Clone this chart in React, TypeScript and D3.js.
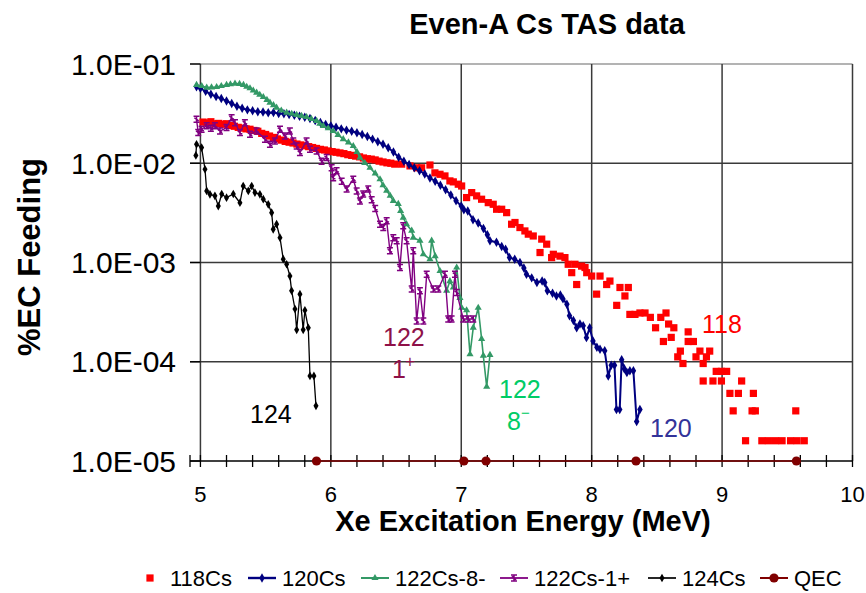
import React from "react";
import * as d3 from "d3";

// ---- series data: [excitation energy (MeV), EC feeding fraction] ----
const cs118: [number, number][] = [
  [5.02, 0.026], [5.05, 0.0255], [5.08, 0.0262], [5.11, 0.025], [5.14, 0.0252], [5.17, 0.0247],
  [5.2, 0.025], [5.23, 0.024], [5.26, 0.0236], [5.29, 0.023], [5.32, 0.0226], [5.35, 0.0222],
  [5.38, 0.022], [5.41, 0.0214], [5.44, 0.021], [5.47, 0.02], [5.5, 0.0195], [5.53, 0.0188],
  [5.56, 0.0182], [5.59, 0.0176], [5.62, 0.0171], [5.65, 0.0166], [5.68, 0.0163], [5.71, 0.016],
  [5.74, 0.0156], [5.77, 0.0153], [5.8, 0.015], [5.83, 0.0147], [5.86, 0.0144], [5.89, 0.0141],
  [5.92, 0.0138], [5.95, 0.0136], [5.98, 0.0133], [6.01, 0.0131], [6.04, 0.0129], [6.07, 0.0127],
  [6.1, 0.0125], [6.13, 0.0122], [6.16, 0.012], [6.19, 0.0118], [6.22, 0.0116], [6.25, 0.0113],
  [6.28, 0.0111], [6.31, 0.011], [6.34, 0.0108], [6.37, 0.0105], [6.4, 0.0103], [6.43, 0.0101],
  [6.46, 0.01], [6.49, 0.0098], [6.543, 0.0098], [6.607, 0.0094], [6.658, 0.009], [6.696, 0.009],
  [6.76, 0.0096], [6.798, 0.008], [6.837, 0.00774], [6.875, 0.00745], [6.913, 0.00664],
  [6.939, 0.00649], [6.977, 0.00615], [7.003, 0.0059], [7.041, 0.00451], [7.08, 0.00506],
  [7.118, 0.00469], [7.156, 0.00434], [7.207, 0.00401], [7.245, 0.00386], [7.271, 0.00344],
  [7.31, 0.00344], [7.348, 0.00318], [7.386, 0.00243], [7.412, 0.00253], [7.45, 0.00225],
  [7.488, 0.00208], [7.514, 0.00193], [7.552, 0.00185], [7.604, 0.00126], [7.617, 0.00172],
  [7.655, 0.00153], [7.693, 0.00112], [7.706, 0.00121], [7.757, 0.00116], [7.795, 0.00112],
  [7.82, 0.00096], [7.847, 0.00079], [7.872, 0.00096], [7.885, 0.0006], [7.923, 0.00092],
  [7.949, 0.00089], [7.962, 0.00079], [8.0, 0.00073], [8.038, 0.00048], [8.064, 0.00073],
  [8.115, 0.0006], [8.14, 0.00065], [8.192, 0.00037], [8.217, 0.00056], [8.255, 0.00046],
  [8.281, 0.00056], [8.293, 0.0003], [8.332, 0.0003], [8.37, 0.00031], [8.409, 0.00031],
  [8.45, 0.00028], [8.49, 0.00022], [8.53, 0.00028], [8.55, 0.00016], [8.57, 0.00031],
  [8.59, 0.00024], [8.61, 0.000176], [8.63, 0.00022], [8.66, 0.000112], [8.68, 0.000128],
  [8.7, 0.000096], [8.74, 0.00016], [8.74, 0.0002], [8.78, 0.00016], [8.8, 0.000112],
  [8.83, 0.000128], [8.855, 0.000096], [8.855, 0.000064], [8.88, 0.000112], [8.905, 0.000128],
  [8.93, 0.000064], [8.955, 0.00008], [8.995, 0.00008], [8.995, 0.000064], [9.035, 0.00008],
  [9.06, 0.000048], [9.085, 0.000032], [9.125, 0.000048], [9.15, 0.000064], [9.18, 0.000016],
  [9.23, 0.000032], [9.24, 0.000048], [9.255, 0.000032], [9.305, 0.000016], [9.355, 0.000016],
  [9.41, 0.000016], [9.46, 0.000016], [9.525, 0.000016], [9.565, 0.000032], [9.575, 0.000016],
  [9.63, 0.000016],
];

const cs120: [number, number][] = [
  [4.97, 0.059], [5.0, 0.057], [5.04, 0.053], [5.08, 0.0495], [5.12, 0.047], [5.16, 0.0448],
  [5.2, 0.0425], [5.24, 0.04], [5.28, 0.0375], [5.32, 0.0358], [5.36, 0.0345], [5.4, 0.0338],
  [5.44, 0.033], [5.48, 0.0328], [5.52, 0.0322], [5.56, 0.0325], [5.6, 0.0318], [5.64, 0.0315],
  [5.68, 0.031], [5.72, 0.0305], [5.76, 0.0298], [5.8, 0.029], [5.84, 0.0282], [5.88, 0.027],
  [5.92, 0.0258], [5.96, 0.0246], [6.0, 0.0238], [6.04, 0.023], [6.08, 0.0222], [6.12, 0.0215],
  [6.16, 0.021], [6.2, 0.0203], [6.24, 0.0195], [6.28, 0.0186], [6.32, 0.0175], [6.36, 0.0165],
  [6.4, 0.0155], [6.44, 0.0143], [6.48, 0.013], [6.52, 0.0115], [6.56, 0.0105], [6.6, 0.0097],
  [6.64, 0.009], [6.68, 0.0084], [6.72, 0.0078], [6.76, 0.0071], [6.8, 0.0066], [6.84, 0.006],
  [6.88, 0.0054], [6.92, 0.0048], [6.96, 0.0042], [7.0, 0.0037], [7.02, 0.0034], [7.05, 0.0033],
  [7.09, 0.0027], [7.13, 0.0025], [7.17, 0.0022], [7.2, 0.0019], [7.22, 0.00166], [7.27, 0.0016],
  [7.31, 0.00145], [7.34, 0.00136], [7.37, 0.00112], [7.41, 0.00108], [7.45, 0.001], [7.48, 0.00088],
  [7.5, 0.00076], [7.54, 0.0007], [7.58, 0.00063], [7.62, 0.00065], [7.64, 0.00063], [7.66, 0.00052],
  [7.7, 0.00049], [7.73, 0.00046], [7.76, 0.00047], [7.78, 0.00043], [7.81, 0.00038], [7.83, 0.00029],
  [7.86, 0.00026], [7.885, 0.00022], [7.91, 0.00024], [7.935, 0.00023], [7.96, 0.000175],
  [7.985, 0.00022], [8.01, 0.000162], [8.04, 0.00014], [8.064, 0.000134], [8.1, 0.000129],
  [8.127, 0.000072], [8.15, 0.000092], [8.175, 0.000092], [8.19, 0.000033], [8.215, 0.000033],
  [8.23, 0.000105], [8.25, 0.000085], [8.27, 0.000078], [8.293, 0.000081], [8.32, 0.000081],
  [8.345, 0.000025], [8.37, 0.000033],
];

const cs122m8: [number, number][] = [
  [4.97, 0.0615], [5.01, 0.06], [5.048, 0.0578], [5.085, 0.0582], [5.124, 0.0586], [5.16, 0.06],
  [5.2, 0.0615], [5.23, 0.0625], [5.265, 0.0634], [5.3, 0.063], [5.33, 0.0615], [5.355, 0.059],
  [5.38, 0.0569], [5.405, 0.054], [5.431, 0.0514], [5.455, 0.049], [5.482, 0.0465], [5.51, 0.0435],
  [5.533, 0.0408], [5.56, 0.0385], [5.584, 0.0363], [5.62, 0.034], [5.661, 0.0323], [5.7, 0.0315],
  [5.738, 0.0307], [5.775, 0.03], [5.814, 0.0292], [5.85, 0.028], [5.891, 0.0267], [5.915, 0.025],
  [5.942, 0.0238], [5.98, 0.0225], [6.018, 0.0211], [6.055, 0.0193], [6.095, 0.0175], [6.135, 0.0162],
  [6.172, 0.0149], [6.2, 0.013], [6.223, 0.0114], [6.26, 0.0101], [6.3, 0.009], [6.34, 0.0079],
  [6.377, 0.0069], [6.4, 0.006], [6.428, 0.0053], [6.455, 0.0047], [6.479, 0.00417], [6.517, 0.0039],
  [6.535, 0.0033], [6.555, 0.00283], [6.58, 0.00243], [6.62, 0.00209], [6.632, 0.00178],
  [6.683, 0.00166], [6.709, 0.00121], [6.76, 0.00108], [6.773, 0.00166], [6.8, 0.00116],
  [6.837, 0.00082], [6.888, 0.00052], [6.913, 0.00065], [6.939, 0.00056], [6.965, 0.00089],
  [6.99, 0.00044], [7.003, 0.00035], [7.041, 0.00033], [7.067, 0.000119], [7.092, 0.000221],
  [7.13, 0.00035], [7.156, 0.00017], [7.169, 0.000115], [7.195, 0.000056], [7.22, 0.000117],
];

const cs122p1: [number, number][] = [
  [4.97, 0.0277], [4.983, 0.0204], [5.009, 0.022], [5.048, 0.0238], [5.08, 0.0225], [5.111, 0.0238],
  [5.15, 0.0211], [5.2, 0.0229], [5.239, 0.0288], [5.265, 0.0256], [5.303, 0.0204], [5.341, 0.0256],
  [5.38, 0.0196], [5.431, 0.0211], [5.495, 0.0175], [5.533, 0.0155], [5.571, 0.0168], [5.61, 0.022],
  [5.648, 0.0188], [5.686, 0.0211], [5.712, 0.0168], [5.738, 0.0149], [5.763, 0.0128],
  [5.814, 0.0168], [5.84, 0.0138], [5.891, 0.0133], [5.929, 0.0105], [5.968, 0.0114],
  [6.006, 0.009], [6.018, 0.00716], [6.044, 0.0084], [6.083, 0.0066], [6.121, 0.0055],
  [6.172, 0.0069], [6.198, 0.00526], [6.223, 0.00417], [6.248, 0.0049], [6.287, 0.0055],
  [6.313, 0.0043], [6.34, 0.0035], [6.377, 0.00243], [6.402, 0.00225], [6.428, 0.00263],
  [6.453, 0.00131], [6.479, 0.00178], [6.505, 0.00166], [6.53, 0.00089], [6.555, 0.00234],
  [6.581, 0.00166], [6.62, 0.00054], [6.632, 0.00131], [6.658, 0.000258], [6.683, 0.00052],
  [6.709, 0.000258], [6.735, 0.00076], [6.785, 0.00054], [6.824, 0.00054], [6.875, 0.00076],
  [6.9, 0.00027], [6.926, 0.00027], [6.952, 0.00076], [6.965, 0.0005], [7.015, 0.00027],
  [7.054, 0.00027], [7.092, 0.00027],
];

const cs124: [number, number][] = [
  [4.965, 0.012], [4.97, 0.0155], [5.009, 0.0144], [5.035, 0.0087], [5.048, 0.00526],
  [5.073, 0.00487], [5.111, 0.0047], [5.137, 0.0037], [5.163, 0.0049], [5.2, 0.0045],
  [5.252, 0.0049], [5.303, 0.004], [5.328, 0.0059], [5.367, 0.00526], [5.393, 0.0059],
  [5.418, 0.00506], [5.456, 0.00487], [5.482, 0.00434], [5.52, 0.00386], [5.546, 0.00318],
  [5.558, 0.00216], [5.584, 0.00243], [5.61, 0.00178], [5.635, 0.00108], [5.661, 0.00096],
  [5.686, 0.00073], [5.699, 0.00052], [5.725, 0.00034], [5.738, 0.00021], [5.763, 0.00048],
  [5.788, 0.00021], [5.801, 0.00033], [5.827, 0.00022], [5.84, 0.000072], [5.87, 0.000072],
  [5.886, 0.000036],
];

const qecEnergies = [5.89, 7.02, 7.19, 8.34, 9.57];
const qec: [number, number][] = qecEnergies.map((e) => [e, 1e-5]);

const yTicks = [1e-1, 1e-2, 1e-3, 1e-4, 1e-5];
const yTickLabels = ["1.0E-01", "1.0E-02", "1.0E-03", "1.0E-04", "1.0E-05"];
const xTicks = [5, 6, 7, 8, 9, 10];
const legendNames = ["118Cs", "120Cs", "122Cs-8-", "122Cs-1+", "124Cs", "QEC"];

const FONT = "'Liberation Sans', Arial, Helvetica, sans-serif";

const W = 866;
const H = 593;
const x = d3.scaleLinear().domain([4.92, 10]).range([190, 852.5]);
const y = d3.scaleLog().domain([1e-5, 1e-1]).range([461, 64]);

type MarkerKind = "square" | "diamond" | "triangle" | "ibeam" | "dot" | "circle";

function Marker({ kind, cx, cy, color }: { kind: MarkerKind; cx: number; cy: number; color: string }) {
  switch (kind) {
    case "square":
      return <rect x={cx - 3.6} y={cy - 3.6} width={7.2} height={7.2} fill={color} />;
    case "diamond":
      return <path transform={`translate(${cx},${cy})`} d={d3.symbol(d3.symbolDiamond, 26)()!} fill={color} />;
    case "triangle":
      return <path transform={`translate(${cx},${cy})`} d={d3.symbol(d3.symbolTriangle, 22)()!} fill={color} />;
    case "ibeam":
      return (
        <path
          transform={`translate(${cx},${cy})`}
          d="M-3,-3H3M-3,3H3M0,-3V3M-2.2,-1.6L2.2,1.6"
          stroke={color}
          strokeWidth={1.5}
          fill="none"
        />
      );
    case "dot":
      return <path transform={`translate(${cx},${cy})`} d={d3.symbol(d3.symbolDiamond, 22)()!} fill={color} />;
    case "circle":
      return <circle cx={cx} cy={cy} r={4.6} fill={color} />;
  }
}

type Series = {
  name: string;
  data: [number, number][];
  color: string;
  line: boolean;
  lineWidth: number;
  marker: MarkerKind;
};

const series: Series[] = [
  { name: legendNames[0], data: cs118, color: "#ff0000", line: false, lineWidth: 0, marker: "square" },
  { name: legendNames[1], data: cs120, color: "#000080", line: true, lineWidth: 2, marker: "diamond" },
  { name: legendNames[2], data: cs122m8, color: "#339966", line: true, lineWidth: 1.6, marker: "triangle" },
  { name: legendNames[3], data: cs122p1, color: "#800080", line: true, lineWidth: 1.4, marker: "ibeam" },
  { name: legendNames[4], data: cs124, color: "#000000", line: true, lineWidth: 1.3, marker: "dot" },
  { name: legendNames[5], data: qec, color: "#800000", line: true, lineWidth: 1.6, marker: "circle" },
];

// legend slot positions (start of the symbol segment)
const legendX = [136, 248, 361, 500, 648, 760];

export default function App() {
  const lineGen = d3
    .line<[number, number]>()
    .x((d) => x(d[0]))
    .y((d) => y(d[1]));

  const minorTicks = d3.range(0, 26).map((i) => 5 + i * 0.2);

  return (
    <svg
      width={W}
      height={H}
      viewBox={`0 0 ${W} ${H}`}
      style={{ position: "absolute", left: 0, top: 0, background: "#fff" }}
      fontFamily={FONT}
    >
      <rect x={0} y={0} width={W} height={H} fill="#fff" />

      {/* title */}
      <text x={547} y={34} textAnchor="middle" fontSize={29} fontWeight="bold" fill="#000">
        Even-A Cs TAS data
      </text>

      {/* plot frame top */}
      <line x1={190} x2={852.5} y1={y(1e-1)} y2={y(1e-1)} stroke="#9a9a9a" strokeWidth={1.5} />

      {/* horizontal gridlines */}
      {yTicks.slice(1, 4).map((t) => (
        <line key={t} x1={190} x2={852.5} y1={y(t)} y2={y(t)} stroke="#3a3a3a" strokeWidth={1.5} />
      ))}
      {/* vertical gridlines */}
      {xTicks.map((t) => (
        <line key={t} x1={x(t)} x2={x(t)} y1={y(1e-1)} y2={y(1e-5)} stroke="#3a3a3a" strokeWidth={1.5} />
      ))}

      {/* y ticks and labels */}
      {yTicks.map((t, i) => (
        <g key={t}>
          <line x1={190} x2={x(5)} y1={y(t)} y2={y(t)} stroke="#000" strokeWidth={1.3} />
          <text x={176} y={y(t)} dy="0.35em" textAnchor="end" fontSize={30} fill="#000">
            {yTickLabels[i]}
          </text>
        </g>
      ))}

      {/* x axis */}
      <line x1={190} x2={852.5} y1={y(1e-5)} y2={y(1e-5)} stroke="#000" strokeWidth={1.5} />
      {[4.92, ...minorTicks].map((t) => (
        <line key={t} x1={x(t)} x2={x(t)} y1={y(1e-5) - 6} y2={y(1e-5) + 6} stroke="#000" strokeWidth={1.3} />
      ))}
      {xTicks.map((t) => (
        <text key={t} x={x(t)} y={502} textAnchor="middle" fontSize={22} fill="#000">
          {t}
        </text>
      ))}

      {/* axis titles */}
      <text x={523} y={531} textAnchor="middle" fontSize={29} fontWeight="bold" fill="#000">
        Xe Excitation Energy (MeV)
      </text>
      <text
        transform="translate(40,257) rotate(-90)"
        textAnchor="middle"
        fontSize={31}
        fontWeight="bold"
        fill="#000"
      >
        %EC Feeding
      </text>

      {/* data series */}
      {series.map((s) => (
        <g key={s.name}>
          {s.line && (
            <path d={lineGen(s.data)!} fill="none" stroke={s.color} strokeWidth={s.lineWidth} strokeLinejoin="round" />
          )}
          {s.data.map((d, i) => (
            <Marker key={i} kind={s.marker} cx={x(d[0])} cy={y(d[1])} color={s.color} />
          ))}
        </g>
      ))}

      {/* series annotations */}
      <text x={702} y={333} fontSize={25} fill="#ff0000">118</text>
      <text x={650} y={437} fontSize={25} fill="#333399">120</text>
      <text x={499} y={398} fontSize={25} fill="#00cc66">122</text>
      <text x={507} y={430} fontSize={25} fill="#00cc66">8</text>
      <text x={521} y={418} fontSize={15} fill="#00cc66">−</text>
      <text x={383} y={346} fontSize={25} fill="#8e1148">122</text>
      <text x={392} y={378} fontSize={25} fill="#8e1148">1</text>
      <text x={405} y={367} fontSize={17} fill="#8e1148">+</text>
      <text x={250} y={423} fontSize={25} fill="#000">124</text>

      {/* legend */}
      {series.map((s, i) => {
        const x0 = legendX[i];
        const cy = 578;
        return (
          <g key={s.name}>
            {s.line && <line x1={x0} x2={x0 + 28} y1={cy} y2={cy} stroke={s.color} strokeWidth={s.lineWidth + 0.4} />}
            <Marker kind={s.marker} cx={x0 + 14} cy={cy} color={s.color} />
            <text x={x0 + 34} y={cy} dy="0.35em" fontSize={22} fill="#000">
              {s.name}
            </text>
          </g>
        );
      })}
    </svg>
  );
}
